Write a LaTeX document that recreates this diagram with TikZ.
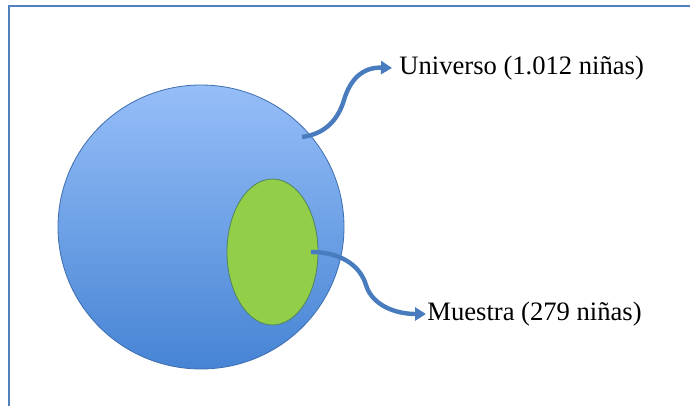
\documentclass[tikz,border=0pt]{standalone}
\usepackage{fontspec}
\setmainfont{Liberation Serif}
\usetikzlibrary{shapes.geometric,arrows.meta}
\definecolor{framebl}{RGB}{79,129,189}
\definecolor{toptone}{RGB}{150,190,248}
\definecolor{bottone}{RGB}{70,132,212}
\definecolor{ringbl}{RGB}{62,110,175}
\definecolor{greenfill}{RGB}{146,206,72}
\definecolor{greenline}{RGB}{80,130,100}
\definecolor{arrowbl}{RGB}{72,124,190}
\tikzset{
  lbl/.style={font=\fontsize{13.3pt}{15pt}\selectfont, anchor=west, inner ysep=0pt},
  curvearrow/.style={draw=arrowbl, line width=2.2pt, -{Triangle[length=5.5pt,width=6.5pt]}},
}
\begin{document}
\begin{tikzpicture}[x=0.5pt,y=-0.5pt]
\useasboundingbox (0,0) rectangle (690,406);
\fill[white] (0,0) rectangle (690,406);
% frame (left and top only)
\draw[framebl, line width=1.2pt] (9,406) -- (9,6) -- (690,6);
% universe
\node[ellipse, draw=ringbl, line width=0.4pt, top color=toptone, bottom color=bottone,
      minimum width=143pt, minimum height=142pt, inner sep=0pt] (univ) at (201,227) {};
% sample
\node[ellipse, draw=greenline, line width=0.4pt, fill=greenfill,
      minimum width=45.5pt, minimum height=73pt, inner sep=0pt] (samp) at (272.5,252) {};
% labels
\node[lbl, inner xsep=3.5pt] (ulab) at (392,68) {Universo (1.012 niñas)};
\node[lbl, inner xsep=0.5pt] (mlab) at (426,314) {Muestra (279 niñas)};
% connectors
\coordinate (ustart) at (302,137);
\coordinate (mstart) at (311,252);
\draw[curvearrow] (ustart) .. controls (325,134) and (338,120) .. (344,100)
   .. controls (350,80) and (362,67) .. (ulab.west);
\draw[curvearrow] (mstart) .. controls (340,252) and (360,265) .. (366,285)
   .. controls (372,305) and (395,314) .. (mlab.west);
\end{tikzpicture}
\end{document}
